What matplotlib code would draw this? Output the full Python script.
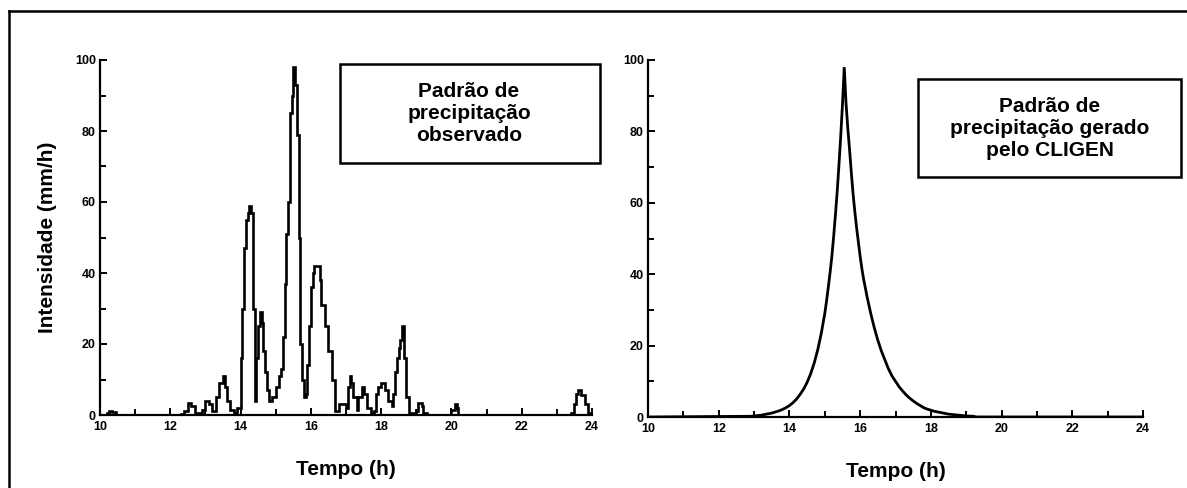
import matplotlib
matplotlib.use("Agg")
import matplotlib.pyplot as plt
from matplotlib.patches import Rectangle
from matplotlib.lines import Line2D

plt.rcParams['font.family'] = ['Liberation Sans', 'DejaVu Sans']

# ---- Data: observed rainfall pattern (time h, intensity mm/h) ----
obs_t = [10.0, 10.2, 10.25, 10.35, 10.45, 12.3, 12.4, 12.5, 12.6, 12.7, 12.8, 12.9, 13.0, 13.1,
         13.2, 13.3, 13.4, 13.5, 13.55, 13.6, 13.7, 13.8, 13.9, 14.0, 14.05, 14.1, 14.15, 14.2,
         14.25, 14.3, 14.35, 14.4, 14.45, 14.5, 14.55, 14.6, 14.65, 14.7, 14.75, 14.8, 14.9, 15.0,
         15.1, 15.15, 15.2, 15.25, 15.3, 15.35, 15.4, 15.45, 15.5, 15.55, 15.6, 15.65, 15.7, 15.75,
         15.8, 15.85, 15.9, 15.95, 16.0, 16.05, 16.1, 16.2, 16.25, 16.3, 16.4, 16.5, 16.6, 16.7,
         16.8, 16.9, 17.0, 17.05, 17.1, 17.15, 17.2, 17.3, 17.35, 17.45, 17.5, 17.6, 17.7, 17.8,
         17.85, 17.9, 18.0, 18.1, 18.2, 18.3, 18.35, 18.4, 18.45, 18.5, 18.55, 18.6, 18.65, 18.7,
         18.8, 19.0, 19.05, 19.15, 19.2, 19.3, 20.0, 20.1, 20.15, 20.2, 23.4, 23.5, 23.55, 23.6,
         23.7, 23.8, 23.9, 24.0]
obs_v = [0, 0.5, 1.0, 0.8, 0, 0.3, 1, 3.5, 2.5, 0.5, 0.5, 1.5, 4, 3,
         1, 5, 9, 11, 8, 4, 1.5, 0.5, 2, 16, 30, 47, 55, 57,
         59, 57, 30, 4, 16, 25, 29, 26, 18, 12, 7, 4, 5, 8,
         11, 13, 22, 37, 51, 60, 85, 90, 98, 93, 79, 50, 20, 10,
         5, 6, 14, 25, 36, 40, 42, 42, 38, 31, 25, 18, 10, 1,
         3, 3, 2, 8, 11, 9, 5, 1.5, 5, 8, 6, 2, 0.5, 1,
         6, 8, 9, 7, 4, 2.5, 6, 12, 16, 19, 21, 25, 16, 5,
         0.5, 1, 3.5, 2.5, 0.5, 0, 1.5, 3, 2, 0, 0.5, 3, 6, 7,
         5.5, 3, 0.5, 0]

# ---- Data: CLIGEN generated pattern ----
gen_t = [10.0, 12.9, 13.0, 13.1, 13.2, 13.3, 13.4, 13.5, 13.6, 13.7, 13.8, 13.9, 14.0, 14.1,
         14.2, 14.3, 14.4, 14.5, 14.6, 14.7, 14.8, 14.9, 15.0, 15.05, 15.1, 15.15, 15.2, 15.25,
         15.3, 15.35, 15.4, 15.45, 15.5, 15.55, 15.6, 15.65, 15.7, 15.75, 15.8, 15.85, 15.9, 15.95,
         16.0, 16.05, 16.1, 16.2, 16.3, 16.4, 16.5, 16.6, 16.7, 16.8, 16.9, 17.0, 17.1, 17.2,
         17.3, 17.4, 17.5, 17.6, 17.7, 17.8, 17.9, 18.0, 18.1, 18.2, 18.3, 18.4, 18.5, 18.6,
         18.7, 18.8, 18.9, 19.0, 19.1, 19.2, 19.3, 24.0]
gen_v = [0, 0.2, 0.3, 0.4, 0.5, 0.7, 0.9, 1.1, 1.4, 1.7, 2.1, 2.6, 3.2, 4.0,
         5.0, 6.3, 7.8, 9.7, 12.1, 15.1, 18.8, 23.4, 29, 32.5, 36.4, 40.5, 45, 50.5,
         56.5, 63, 70.5, 78.5, 87.5, 98, 88, 81, 75, 68.5, 62.5, 57.5, 53, 49,
         45, 41.5, 38.5, 33.5, 29, 25, 21.5, 18.5, 16, 13.5, 11.5, 10, 8.5, 7.3,
         6.2, 5.3, 4.5, 3.8, 3.2, 2.6, 2.2, 1.9, 1.6, 1.4, 1.2, 1.0, 0.8, 0.7,
         0.6, 0.5, 0.4, 0.3, 0.25, 0.2, 0, 0]

x_ticks = [10, 12, 14, 16, 18, 20, 22, 24]
y_ticks = [0, 20, 40, 60, 80, 100]
ylabel = "Intensidade (mm/h)"
xlabel = "Tempo (h)"
box_left = "Padrão de\nprecipitação\nobservado"
box_right = "Padrão de\nprecipitação gerado\npelo CLIGEN"

W, H = 1187, 488
fig = plt.figure(figsize=(W / 100, H / 100), dpi=100)

def px_rect(x0, x1, ytop, ybot):
    return [x0 / W, 1 - ybot / H, (x1 - x0) / W, (ybot - ytop) / H]

ax1 = fig.add_axes(px_rect(100, 592, 60, 415))
ax2 = fig.add_axes(px_rect(648, 1143, 60, 417))

ax1.step(obs_t, obs_v, where='post', color='black', lw=1.9, solid_joinstyle='miter')
ax2.plot(gen_t, gen_v, color='black', lw=2.0, solid_joinstyle='miter')

for ax in (ax1, ax2):
    ax.set_xlim(10, 24)
    ax.set_ylim(0, 100)
    for s in ('top', 'right'):
        ax.spines[s].set_visible(False)
    for s in ('left', 'bottom'):
        ax.spines[s].set_linewidth(1.6)
    ax.set_xticks(x_ticks)
    ax.set_xticks(range(10, 25), minor=True)
    ax.set_yticks(y_ticks)
    ax.set_yticks(range(0, 101, 10), minor=True)
    ax.tick_params(which='both', direction='in', width=1.4, labelsize=9)
    ax.tick_params(which='major', length=5)
    ax.tick_params(which='minor', length=4)
    ax.tick_params(axis='x', pad=4)
    ax.tick_params(axis='y', pad=3)
    for lab in ax.get_xticklabels() + ax.get_yticklabels():
        lab.set_fontweight('bold')
    ax.set_xlabel(xlabel, fontsize=15, fontweight='bold', labelpad=20)

ax1.set_ylabel(ylabel, fontsize=15, fontweight='bold', labelpad=13)

# annotation boxes
def box(x0, x1, ytop, ybot, text, cx):
    r = Rectangle((x0 / W, 1 - ybot / H), (x1 - x0) / W, (ybot - ytop) / H,
                  transform=fig.transFigure, fill=False, lw=1.8, ec='black')
    fig.add_artist(r)
    fig.text(cx / W, 1 - (ytop + ybot) / 2 / H, text, ha='center', va='center',
             fontsize=15, fontweight='bold', linespacing=1.2)

box(340, 600, 64, 163, box_left, 469)
box(918, 1181, 79, 177, box_right, 1050)

# outer frame (top and left edges)
fig.add_artist(Line2D([9 / W, 9 / W], [0, 1 - 11 / H], transform=fig.transFigure, color='black', lw=1.8))
fig.add_artist(Line2D([9 / W, 1], [1 - 11 / H, 1 - 11 / H], transform=fig.transFigure, color='black', lw=1.8))

fig.savefig("out.png", dpi=100)
